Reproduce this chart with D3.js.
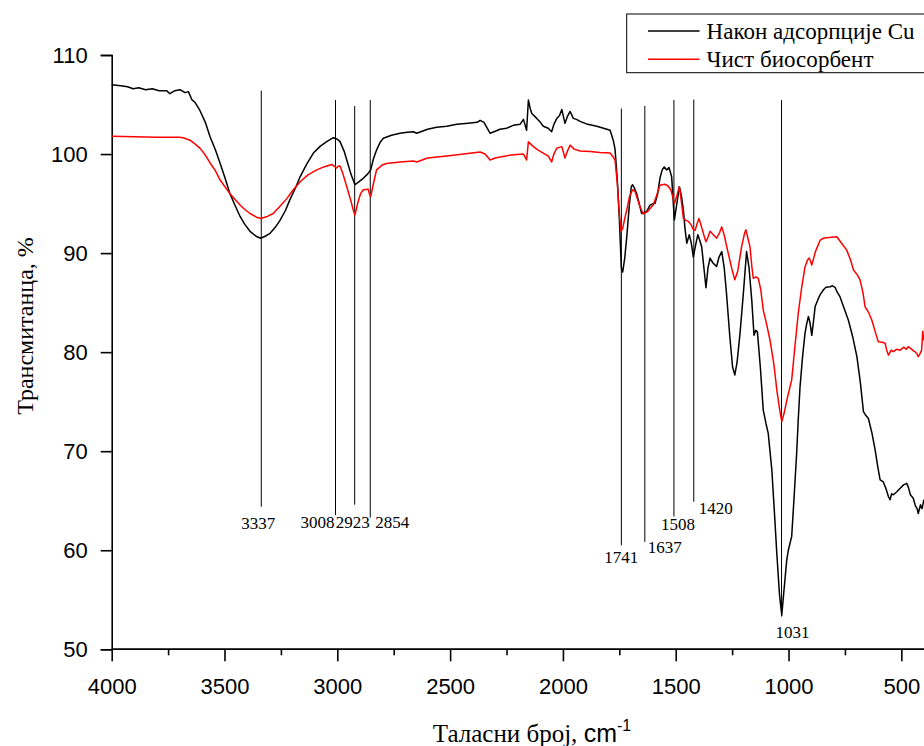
<!DOCTYPE html>
<html>
<head>
<meta charset="utf-8">
<script src="https://cdn.jsdelivr.net/npm/d3@7"></script>
<style>
  body { margin: 0; background: #fff; }
  svg { display: block; }
  .tick text { font-family: "Liberation Sans", Arial, sans-serif; font-size: 22px; fill: #000; }
  .serif { font-family: "Liberation Serif", "Times New Roman", serif; fill: #000; }
</style>
</head>
<body>
<div id="chart-area"></div>
<script>
const FIGURE = { WIDTH: 924, HEIGHT: 746 };
const PLOT = { LEFT: 111.7, RIGHT: 923.9, TOP: 55, BOTTOM: 649.3 };

// series: [wavenumber, transmittance %]
const adsorbedCu = [
  [4000,107.0],[3960,106.9],[3930,106.8],[3905,106.6],[3880,106.7],[3850,106.5],[3820,106.6],[3790,106.4],
  [3757,106.4],[3742,106.1],[3720,106.4],[3697,106.5],[3675,106.2],[3660,106.3],[3645,105.5],[3630,105.2],
  [3609,104.4],[3585,103.2],[3564,101.75],[3540,100.4],[3520,99.1],[3498,97.6],[3476,96.0],[3453,94.8],
  [3431,93.7],[3410,92.9],[3387,92.2],[3360,91.7],[3340,91.5],[3320,91.7],[3298,92.0],[3275,92.6],
  [3254,93.3],[3230,94.3],[3210,95.4],[3185,96.6],[3165,97.7],[3135,99.0],[3106,100.1],[3075,100.8],
  [3047,101.25],[3018,101.65],[3000,101.5],[2988,101.25],[2970,100.3],[2958,99.4],[2940,98.0],[2922,96.9],
  [2905,97.2],[2885,97.55],[2865,98.0],[2852,98.4],[2840,99.5],[2826,100.4],[2810,101.2],[2796,101.6],
  [2760,101.9],[2722,102.1],[2690,102.2],[2663,102.25],[2648,102.1],[2600,102.5],[2560,102.7],[2515,102.8],
  [2470,103.0],[2420,103.1],[2380,103.2],[2367,103.4],[2350,103.2],[2335,102.6],[2323,102.1],[2300,102.3],
  [2279,102.5],[2250,102.6],[2220,102.9],[2190,103.0],[2175,103.5],[2161,102.4],[2153,105.45],[2145,104.6],
  [2138,104.1],[2116,103.6],[2100,103.2],[2087,102.8],[2065,102.6],[2050,102.25],[2040,103.0],[2027,103.6],
  [2015,103.9],[2005,104.5],[1998,103.8],[1991,103.1],[1980,103.8],[1968,104.3],[1954,103.6],[1940,103.5],
  [1924,103.3],[1890,103.0],[1850,102.8],[1820,102.6],[1791,102.4],[1777,101.4],[1769,100.5],[1759,97.4],
  [1750,93.5],[1741,88.5],[1735,88.1],[1726,89.5],[1717,91.65],[1705,95.0],[1697,96.7],[1691,96.9],
  [1682,96.5],[1673,96.0],[1662,95.0],[1651,94.0],[1640,94.1],[1629,94.2],[1614,94.85],[1600,95.0],
  [1592,95.0],[1580,96.0],[1570,97.55],[1560,98.4],[1551,98.7],[1540,98.4],[1530,98.65],[1518,97.7],
  [1512,95.5],[1506,93.35],[1495,95.0],[1484,96.7],[1475,95.8],[1466,94.35],[1459,92.5],[1451,91.0],
  [1440,91.85],[1431,91.0],[1422,89.6],[1412,90.8],[1402,91.85],[1395,91.4],[1385,90.65],[1375,88.5],
  [1366,86.5],[1357,88.5],[1348,89.5],[1335,89.0],[1319,88.65],[1308,89.6],[1296,90.15],[1285,88.5],
  [1275,85.95],[1260,81.5],[1248,78.5],[1238,77.7],[1228,79.0],[1215,81.9],[1200,86.0],[1186,90.15],
  [1175,88.5],[1163,85.25],[1153,81.7],[1145,82.2],[1138,82.05],[1125,78.5],[1112,74.15],[1100,72.8],
  [1090,71.8],[1080,69.5],[1074,68.1],[1063,64.0],[1052,59.7],[1040,55.5],[1030,53.45],[1022,55.5],
  [1016,57.0],[1008,59.0],[1001,60.0],[986,61.4],[975,65.5],[964,69.8],[957,73.15],[949,76.5],
  [938,79.5],[927,81.9],[920,82.8],[912,83.6],[905,83.0],[897,81.7],[890,83.0],[882,84.6],
  [870,85.3],[860,85.8],[845,86.3],[834,86.55],[815,86.6],[805,86.7],[794,86.55],[783,86.0],
  [772,85.6],[755,84.5],[735,83.25],[715,81.5],[697,79.55],[682,77.0],[668,74.0],[657,73.6],
  [646,73.3],[630,71.8],[616,70.1],[605,68.5],[594,67.1],[580,66.9],[568,66.2],[557,65.4],
  [550,65.1],[543,65.7],[535,65.6],[520,65.9],[505,66.25],[490,66.6],[476,66.75],[468,66.3],
  [460,65.6],[447,65.25],[438,64.5],[430,64.2],[425,63.7],[415,64.6],[408,64.2],[400,65.1]
];

const pureSorbent = [
  [4000,101.8],[3900,101.75],[3800,101.7],[3740,101.7],[3700,101.7],[3683,101.65],[3653,101.4],[3630,101.0],
  [3609,100.6],[3585,99.9],[3564,99.1],[3540,98.3],[3520,97.4],[3498,96.7],[3476,96.0],[3453,95.4],
  [3431,94.85],[3410,94.4],[3387,94.0],[3360,93.65],[3340,93.5],[3310,93.7],[3284,94.0],[3255,94.7],
  [3224,95.5],[3195,96.4],[3165,97.2],[3130,97.9],[3091,98.4],[3060,98.7],[3025,98.95],[3010,98.7],
  [3003,98.6],[2995,98.8],[2988,98.8],[2975,98.0],[2958,96.7],[2940,95.3],[2930,94.4],[2922,93.85],
  [2910,95.0],[2897,96.0],[2885,96.4],[2863,96.45],[2858,96.0],[2852,95.7],[2840,97.0],[2826,98.4],
  [2800,98.9],[2782,99.05],[2722,99.2],[2663,99.3],[2648,99.2],[2600,99.6],[2515,99.8],[2440,100.0],
  [2367,100.2],[2345,100.0],[2323,99.4],[2300,99.6],[2279,99.7],[2230,99.9],[2175,100.0],[2161,99.4],
  [2153,101.25],[2131,100.75],[2110,100.4],[2087,100.1],[2065,99.8],[2050,99.2],[2040,100.0],[2027,100.6],
  [2005,100.75],[1998,100.2],[1991,99.6],[1980,100.3],[1968,100.9],[1950,100.5],[1924,100.3],[1880,100.25],
  [1836,100.15],[1791,100.1],[1777,99.7],[1769,99.4],[1759,97.05],[1750,94.0],[1742,92.2],[1735,92.5],
  [1725,93.6],[1717,94.35],[1705,95.7],[1691,96.4],[1680,96.2],[1673,95.7],[1660,94.8],[1644,93.95],
  [1625,94.2],[1600,94.85],[1585,95.8],[1570,96.85],[1549,96.95],[1535,96.8],[1522,96.4],[1512,95.6],
  [1506,95.0],[1495,95.8],[1484,96.7],[1475,95.2],[1466,93.5],[1455,93.3],[1444,93.2],[1433,92.9],
  [1422,92.4],[1414,92.3],[1405,93.0],[1397,93.5],[1385,92.6],[1375,91.8],[1366,91.15],[1357,91.6],
  [1348,92.2],[1335,91.9],[1319,91.5],[1305,92.1],[1296,92.65],[1285,91.8],[1267,89.95],[1250,88.3],
  [1238,87.3],[1225,88.2],[1208,90.65],[1195,92.0],[1189,92.35],[1180,91.5],[1171,90.65],[1162,88.5],
  [1156,87.45],[1145,87.6],[1134,87.45],[1123,86.3],[1112,84.25],[1097,82.8],[1082,81.2],[1065,78.8],
  [1052,76.2],[1040,74.3],[1030,73.0],[1020,73.8],[1005,75.4],[986,77.2],[972,80.5],[957,83.9],
  [942,86.5],[927,88.6],[916,89.3],[908,89.5],[897,88.8],[880,90.2],[860,91.3],[845,91.5],
  [831,91.55],[810,91.6],[786,91.65],[765,91.0],[742,90.3],[725,89.3],[712,88.3],[695,87.8],
  [683,87.3],[670,86.0],[661,84.6],[645,84.0],[631,83.25],[615,82.0],[602,81.05],[585,81.0],
  [572,80.9],[565,80.2],[557,79.7],[545,80.2],[535,80.05],[520,80.3],[505,80.2],[490,80.5],
  [478,80.3],[469,80.55],[455,80.3],[445,80.1],[439,80.05],[430,79.8],[425,79.55],[418,79.8],
  [410,80.2],[405,82.1],[402,81.5],[400,81.2]
];

const seriesNames = ["Након адсорпције Cu", "Чист биосорбент"];
const seriesColors = ["#000000", "#ff0000"];

// marked bands, cm-1
const peakWn = [3337, 3008, 2923, 2854, 1741, 1637, 1508, 1420, 1031];
// vertical extent of each marker line (in % units)
const peakTop = [106.4, 105.45, 104.85, 105.45, 104.6, 104.85, 105.45, 105.5, 105.45];
const peakBottom = [64.4, 63.55, 64.6, 63.3, 60.5, 60.85, 63.4, 64.9, 53.3];

const xTicks = [4000, 3500, 3000, 2500, 2000, 1500, 1000, 500];
const xMinorTicks = [3750, 3250, 2750, 2250, 1750, 1250, 750];
const yTicks = [50, 60, 70, 80, 90, 100, 110];

// label placement relative to bottom of each marker line
const LABEL_POS = [
  { anchor: "middle", dx: -3, dy: 22 },
  { anchor: "end", dx: -1, dy: 13 },
  { anchor: "middle", dx: -2, dy: 23 },
  { anchor: "start", dx: 5, dy: 10 },
  { anchor: "middle", dx: 0, dy: 18 },
  { anchor: "start", dx: 3, dy: 11 },
  { anchor: "middle", dx: 4, dy: 13 },
  { anchor: "start", dx: 5, dy: 12 },
  { anchor: "start", dx: -6, dy: 21 }
];
// legend text widths as drawn in the original
const LEGEND_WIDTHS = [208, 167];

let svg = d3.select("#chart-area")
  .append("svg")
    .attr("width", FIGURE.WIDTH)
    .attr("height", FIGURE.HEIGHT);

let x = d3.scaleLinear().domain([4000, 400]).range([PLOT.LEFT, PLOT.RIGHT]);
let y = d3.scaleLinear().domain([50, 110]).range([PLOT.BOTTOM, PLOT.TOP]);

// axes
let xAxis = d3.axisBottom(x).tickValues(xTicks).tickSize(12).tickPadding(17).tickFormat(d3.format("d"));
let xMinor = d3.axisBottom(x).tickValues(xMinorTicks).tickSize(6).tickFormat("");
let yAxis = d3.axisLeft(y).tickValues(yTicks).tickSize(11).tickPadding(13).tickFormat(d3.format("d"));

svg.append("g")
  .attr("class", "x-axis")
  .attr("transform", `translate(0, ${PLOT.BOTTOM})`)
  .call(xAxis);
svg.append("g")
  .attr("class", "x-minor")
  .attr("transform", `translate(0, ${PLOT.BOTTOM})`)
  .call(xMinor);
svg.append("g")
  .attr("class", "y-axis")
  .attr("transform", `translate(${PLOT.LEFT}, 0)`)
  .call(yAxis);

svg.selectAll(".domain, .tick line")
  .attr("stroke", "#000")
  .attr("stroke-width", 1.6);
svg.selectAll(".x-axis .domain, .x-minor .domain").attr("d", `M${PLOT.LEFT},0H${FIGURE.WIDTH}`);

// peak marker lines
svg.append("g").selectAll("line")
  .data(peakWn)
  .enter()
  .append("line")
    .attr("x1", d => x(d))
    .attr("x2", d => x(d))
    .attr("y1", (d, i) => y(peakTop[i]))
    .attr("y2", (d, i) => y(peakBottom[i]))
    .attr("stroke", "#000")
    .attr("stroke-width", 1);

svg.append("g").selectAll("text")
  .data(peakWn)
  .enter()
  .append("text")
    .attr("class", "serif")
    .attr("x", (d, i) => x(d) + LABEL_POS[i].dx)
    .attr("y", (d, i) => y(peakBottom[i]) + LABEL_POS[i].dy)
    .attr("text-anchor", (d, i) => LABEL_POS[i].anchor)
    .style("font-size", "17px")
    .text(d => d);

// spectra
let line = d3.line()
  .x(d => x(d[0]))
  .y(d => y(d[1]));

[adsorbedCu, pureSorbent].forEach((s, i) => {
  svg.append("path")
    .datum(s)
    .attr("fill", "none")
    .attr("stroke", seriesColors[i])
    .attr("stroke-width", 1.5)
    .attr("stroke-linejoin", "round")
    .attr("d", line);
});

// legend
let legend = svg.append("g");
legend.append("rect")
  .attr("x", 626.7).attr("y", 14)
  .attr("width", 400).attr("height", 58.7)
  .attr("fill", "#fff")
  .attr("stroke", "#000")
  .attr("stroke-width", 1);
seriesNames.forEach((name, i) => {
  let ly = 31 + i * 28.3;
  legend.append("line")
    .attr("x1", 648).attr("x2", 699.5)
    .attr("y1", ly).attr("y2", ly)
    .attr("stroke", seriesColors[i])
    .attr("stroke-width", 1.5);
  legend.append("text")
    .attr("class", "serif")
    .attr("x", 706.5).attr("y", ly + 8)
    .attr("textLength", LEGEND_WIDTHS[i])
    .attr("lengthAdjust", "spacing")
    .style("font-size", "23px")
    .text(name);
});

// axis titles
svg.append("text")
  .attr("class", "serif")
  .attr("transform", "translate(33, 326) rotate(-90)")
  .attr("text-anchor", "middle")
  .style("font-size", "24px")
  .text("Трансмитанца, %");

let xTitle = svg.append("text")
  .attr("x", 532).attr("y", 742)
  .attr("text-anchor", "middle")
  .style("font-size", "25px");
xTitle.append("tspan")
  .attr("class", "serif")
  .style("font-family", "'Liberation Serif', 'Times New Roman', serif")
  .text("Таласни број, ");
xTitle.append("tspan")
  .style("font-family", "'Liberation Sans', Arial, sans-serif")
  .text("cm");
xTitle.append("tspan")
  .style("font-family", "'Liberation Sans', Arial, sans-serif")
  .style("font-size", "16px")
  .attr("dy", -11)
  .text("-1");
</script>
</body>
</html>
